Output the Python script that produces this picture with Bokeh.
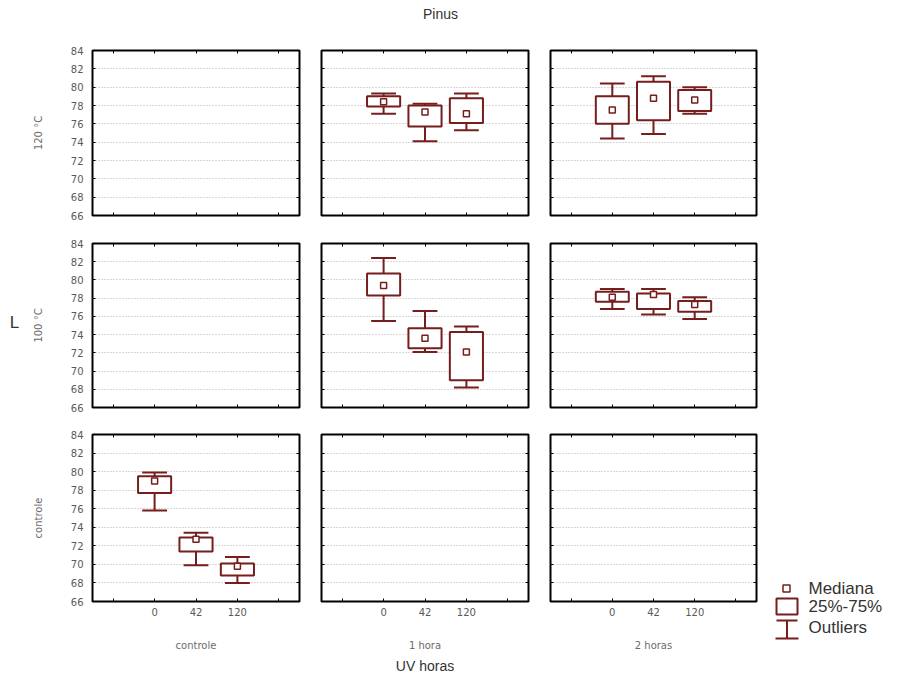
from bokeh.plotting import figure
from bokeh.models import ColumnDataSource, Range1d, LinearAxis, FixedTicker, Grid, Title
from bokeh.layouts import row, column
from bokeh.core.properties import value
from bokeh.embed import file_html
from bokeh.resources import INLINE

# Painéis: linhas = temperatura, colunas = tempo de tratamento
temperaturas = ["120 °C", "100 °C", "controle"]
tratamentos = ["controle", "1 hora", "2 horas"]
uv_horas = ["0", "42", "120"]

# Grupos com dados (temperatura, tratamento, dose UV)
grupo_temp = ["120 °C"] * 6 + ["100 °C"] * 6 + ["controle"] * 3
grupo_trat = ["1 hora"] * 3 + ["2 horas"] * 3 + ["1 hora"] * 3 + ["2 horas"] * 3 + ["controle"] * 3
grupo_uv = uv_horas * 5

# Estatísticas de L por grupo
l_min = [77.1, 74.1, 75.3, 74.4, 74.9, 77.1, 75.5, 72.1, 68.2, 76.8, 76.2, 75.7, 75.8, 69.9, 68.0]
l_q1 = [77.9, 75.7, 76.1, 76.0, 76.4, 77.4, 78.3, 72.5, 69.0, 77.6, 76.8, 76.5, 77.7, 71.4, 68.8]
l_med = [78.4, 77.3, 77.1, 77.5, 78.8, 78.6, 79.4, 73.6, 72.1, 78.1, 78.4, 77.3, 79.0, 72.7, 69.8]
l_q3 = [79.0, 78.0, 78.8, 79.0, 80.6, 79.7, 80.7, 74.7, 74.3, 78.7, 78.5, 77.7, 79.5, 72.9, 70.1]
l_max = [79.3, 78.2, 79.3, 80.4, 81.2, 80.0, 82.4, 76.6, 74.9, 79.0, 79.0, 78.1, 79.9, 73.4, 70.8]

titulo = "Pinus"
nome_y = "L"
nome_x = "UV horas"
legenda = ["Mediana", "25%-75%", "Outliers"]

y_ticks = list(range(66, 85, 2))
x_ticks = [2, 3, 4]          # posições das doses
x_ticks_extra = [1, 5]       # marcas sem rótulo

COR = "#761d1d"
FONTE_EIXO = "DejaVu Sans"
FONTE_TXT = "Liberation Sans"

# geometria (px)
ALT_CAB = 26
BORDA_ESQ = [64, 11, 11]
BORDA_DIR = [11, 11, 10]
LARG = [207, 207, 206]
BORDA_SUP = [24, 14, 14]
BORDA_INF = [14, 13, 81]
ALT = [165, 164, 167]
LARG_ROT = 28
LARG_LEG = 148


def eixo(lado, rotulos, nome=None):
    vertical = lado in ("left", "right")
    if vertical:
        ticker = FixedTicker(ticks=y_ticks)
    else:
        ticker = FixedTicker(ticks=x_ticks, minor_ticks=x_ticks_extra)
    ax = LinearAxis(ticker=ticker)
    ax.major_tick_in = 3
    ax.major_tick_out = 0
    ax.minor_tick_in = 3
    ax.minor_tick_out = 0
    ax.minor_tick_line_color = "black"
    ax.axis_line_color = None
    ax.major_tick_line_color = "black"
    ax.major_tick_line_width = 1
    if rotulos:
        ax.major_label_text_font = FONTE_EIXO
        ax.major_label_text_font_size = "10px"
        ax.major_label_text_color = "#5a5a5a"
        ax.major_label_standoff = 9 if vertical else 6
        if not vertical:
            ax.major_label_overrides = {2: uv_horas[0], 3: uv_horas[1], 4: uv_horas[2]}
    else:
        ax.major_label_text_font_size = "1px"
        ax.major_label_text_color = None
        ax.major_label_standoff = 0
    if nome is not None:
        ax.axis_label = nome
        ax.axis_label_text_font = FONTE_EIXO
        ax.axis_label_text_font_size = "10px"
        ax.axis_label_text_font_style = "normal"
        ax.axis_label_text_color = "#6a6a6a"
        ax.axis_label_standoff = 24 if vertical else 21
    return ax


def painel(i, j):
    temp, trat = temperaturas[i], tratamentos[j]
    p = figure(
        width=BORDA_ESQ[j] + LARG[j] + BORDA_DIR[j],
        height=BORDA_SUP[i] + ALT[i] + BORDA_INF[i],
        x_range=Range1d(0.5, 5.5), y_range=Range1d(66, 84),
        x_axis_type=None, y_axis_type=None,
        min_border_left=BORDA_ESQ[j], min_border_right=BORDA_DIR[j],
        min_border_top=BORDA_SUP[i], min_border_bottom=BORDA_INF[i],
        output_backend="svg", toolbar_location=None,
        background_fill_color="white", border_fill_color="white",
    )
    p.outline_line_color = "black"
    p.outline_line_width = 2
    p.add_layout(Grid(dimension=1, ticker=FixedTicker(ticks=y_ticks[1:-1]),
                      grid_line_color="#b0b0b0", grid_line_dash="1 2", grid_line_width=1), "center")

    p.add_layout(eixo("left", j == 0, temp if j == 0 else None), "left")
    p.add_layout(eixo("right", False), "right")
    p.add_layout(eixo("above", False), "above")
    p.add_layout(eixo("below", i == 2, trat if i == 2 else None), "below")

    sel = [k for k in range(len(grupo_temp)) if grupo_temp[k] == temp and grupo_trat[k] == trat]
    if sel:
        x = [uv_horas.index(grupo_uv[k]) + 2 for k in sel]
        src = ColumnDataSource(dict(
            x=x,
            x0=[v - 0.3 for v in x], x1=[v + 0.3 for v in x],
            lo=[l_min[k] for k in sel], q1=[l_q1[k] for k in sel],
            med=[l_med[k] for k in sel], q3=[l_q3[k] for k in sel],
            hi=[l_max[k] for k in sel],
        ))
        p.segment(x0="x", y0="lo", x1="x", y1="hi", source=src, line_color=COR, line_width=2)
        p.segment(x0="x0", y0="lo", x1="x1", y1="lo", source=src, line_color=COR, line_width=2)
        p.segment(x0="x0", y0="hi", x1="x1", y1="hi", source=src, line_color=COR, line_width=2)
        p.vbar(x="x", width=0.8, bottom="q1", top="q3", source=src,
               fill_color="white", line_color=COR, line_width=2)
        p.scatter(x="x", y="med", source=src, marker="square", size=6,
                  fill_color="white", line_color=COR, line_width=1.5)
    return p


def tela(w, h):
    # figura auxiliar para textos soltos, em coordenadas de pixel
    f = figure(width=w, height=h, x_range=Range1d(0, w), y_range=Range1d(h, 0),
               x_axis_type=None, y_axis_type=None, min_border=0,
               output_backend="svg", toolbar_location=None, outline_line_color=None)
    return f


paineis = [[painel(i, j) for j in range(3)] for i in range(3)]

# rótulo do eixo X comum
paineis[2][1].add_layout(Title(text=nome_x, align="center", standoff=4,
                               text_font=FONTE_TXT, text_font_size="14px",
                               text_font_style="normal", text_color="#333333"), "below")

larg_grade = sum(BORDA_ESQ) + sum(LARG) + sum(BORDA_DIR)

# cabeçalho com o título
cab = tela(larg_grade, ALT_CAB)
cab.text(x=[412], y=[13], text=[titulo], text_font=value(FONTE_TXT), text_font_size="14px",
         text_color="#333333", text_align="center", text_baseline="middle")

# rótulo da variável (eixo Y)
rot = tela(LARG_ROT, 682)
rot.text(x=[14], y=[322], text=[nome_y], text_font=value(FONTE_TXT), text_font_size="17px",
         text_color="#333333", text_align="center", text_baseline="middle")

# legenda
leg = tela(LARG_LEG, 682)
leg.scatter(x=[20], y=[588], marker="square", size=7, fill_color="white",
            line_color=COR, line_width=1.5)
leg.quad(left=[10], right=[31], top=[598], bottom=[614], fill_color="white",
         line_color=COR, line_width=2)
leg.segment(x0=[10, 20.5, 9], y0=[620, 620, 638], x1=[31, 20.5, 32], y1=[620, 638, 638],
            line_color=COR, line_width=2)
leg.text(x=[42, 42, 42], y=[588, 606, 627], text=legenda,
         text_font=value(FONTE_TXT), text_font_size="17px", text_color="#333333",
         text_baseline="middle", text_align="left")

grade = column(
    cab,
    row(*paineis[0]),
    row(*paineis[1]),
    row(*paineis[2]),
)
layout = row(rot, grade, leg)

open("out.html", "w").write(file_html(layout, INLINE))
